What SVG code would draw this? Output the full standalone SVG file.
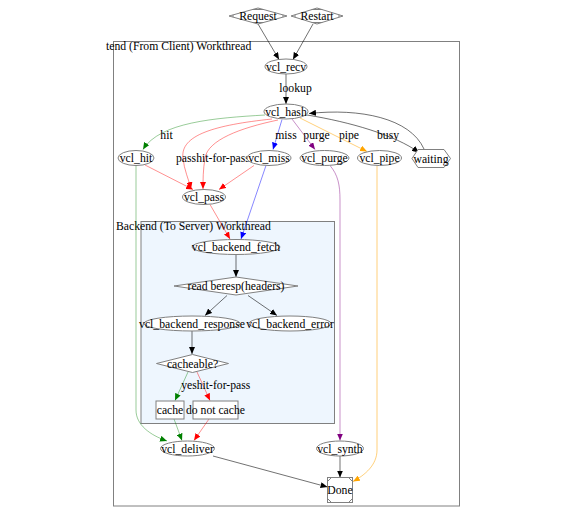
<svg xmlns="http://www.w3.org/2000/svg" width="570" height="515" viewBox="0 0 570 515">
<style>
text{font-family:"Liberation Serif","Times New Roman",serif;font-size:11.7px;fill:#000;text-anchor:middle}
.lbl{text-anchor:start}
.n{fill:#fff;stroke:#808080;stroke-width:1}
.cl{fill:none;stroke:#808080;stroke-width:1}
.e{fill:none;stroke-width:0.8}
.k{stroke:#000;stroke-opacity:0.7}
.g{stroke:#008000;stroke-opacity:0.5}
.r{stroke:#ff0000;stroke-opacity:0.55}
.b{stroke:#0000ff;stroke-opacity:0.6}
.p{stroke:#800080;stroke-opacity:0.55}
.o{stroke:#ffa500;stroke-opacity:0.65}
</style>
<defs>
<marker id="ak" markerUnits="userSpaceOnUse" markerWidth="7" markerHeight="6" refX="7" refY="3" orient="auto"><path d="M0,0 L7,3 L0,6 z" fill="#000"/></marker>
<marker id="ag" markerUnits="userSpaceOnUse" markerWidth="7" markerHeight="6" refX="7" refY="3" orient="auto"><path d="M0,0 L7,3 L0,6 z" fill="#008000"/></marker>
<marker id="ar" markerUnits="userSpaceOnUse" markerWidth="7" markerHeight="6" refX="7" refY="3" orient="auto"><path d="M0,0 L7,3 L0,6 z" fill="#ff0000"/></marker>
<marker id="ab" markerUnits="userSpaceOnUse" markerWidth="7" markerHeight="6" refX="7" refY="3" orient="auto"><path d="M0,0 L7,3 L0,6 z" fill="#0000ff"/></marker>
<marker id="ap" markerUnits="userSpaceOnUse" markerWidth="7" markerHeight="6" refX="7" refY="3" orient="auto"><path d="M0,0 L7,3 L0,6 z" fill="#800080"/></marker>
<marker id="ao" markerUnits="userSpaceOnUse" markerWidth="7" markerHeight="6" refX="7" refY="3" orient="auto"><path d="M0,0 L7,3 L0,6 z" fill="#ffa500"/></marker>
</defs>
<rect width="570" height="515" fill="#fff"/>

<g id="cluster_frontend">
<rect class="cl" x="113.5" y="41.5" width="346" height="464.5"/>
<text class="lbl" x="106" y="50">tend (From Client) Workthread</text>
</g>
<g id="cluster_backend">
<rect x="141" y="221.5" width="193.5" height="202" fill="#eef6fe" stroke="#808080" stroke-width="1"/>
<text class="lbl" x="116" y="230">Backend (To Server) Workthread</text>
</g>

<g id="connectors">
<path class="e k" d="M258,24 L279,59.5" marker-end="url(#ak)"/>
<path class="e k" d="M313,24 L293,59.5" marker-end="url(#ak)"/>
<path class="e k" d="M286,74 L286,104" marker-end="url(#ak)"/>
<text x="295.5" y="92">lookup</text>
<path class="e g" d="M265,115 C215,118 160,122 143,149.5" marker-end="url(#ag)"/>
<path class="e r" d="M272,119 C215,125 180,135 183,158 C184,170 189,180 191,189" marker-end="url(#ar)"/>
<path class="e r" d="M278,120 C240,128 208,140 205,158 C203,170 203,180 203,189" marker-end="url(#ar)"/>
<path class="e b" d="M282,119.5 L273,149.5" marker-end="url(#ab)"/>
<path class="e p" d="M292,119 L315,149.5" marker-end="url(#ap)"/>
<path class="e o" d="M300,118 L367,151.5" marker-end="url(#ao)"/>
<path class="e k" d="M307,115 C350,122 395,135 419,152.5" marker-end="url(#ak)"/>
<path class="e k" d="M424,149 C410,118 360,108 309,113.5" marker-end="url(#ak)"/>
<text x="166.5" y="138.5">hit</text>
<text x="186" y="162">pass</text>
<text x="223" y="162">hit-for-pass</text>
<text x="286" y="138.5">miss</text>
<text x="316.5" y="138.5">purge</text>
<text x="349" y="138.5">pipe</text>
<text x="388" y="138.5">busy</text>
<path class="e r" d="M145,165 L193,189.5" marker-end="url(#ar)"/>
<path class="e r" d="M254,165.5 L219,189.5" marker-end="url(#ar)"/>
<path class="e b" d="M266,165.5 L241,239" marker-end="url(#ab)"/>
<path class="e r" d="M210,204.5 L230,239" marker-end="url(#ar)"/>
<path class="e g" d="M136,165.5 L136,410 C136,425 150,435 167,441" marker-end="url(#ag)"/>
<path class="e p" d="M330,165.5 C338,175 340,185 340,200 L340,440.5" marker-end="url(#ap)"/>
<path class="e o" d="M377,165.5 L377,450 C377,465 365,475 353,481.5" marker-end="url(#ao)"/>
<path class="e k" d="M236,254.5 L236,277" marker-end="url(#ak)"/>
<path class="e k" d="M227,295.5 L205,315.5" marker-end="url(#ak)"/>
<path class="e k" d="M248,295.5 L277,315.5" marker-end="url(#ak)"/>
<path class="e k" d="M192,331 L192,354" marker-end="url(#ak)"/>
<path class="e g" d="M188,372 L175,400.5" marker-end="url(#ag)"/>
<path class="e r" d="M197,372 L210,400.5" marker-end="url(#ar)"/>
<text x="189" y="389">yes</text>
<text x="223.5" y="389">hit-for-pass</text>
<path class="e g" d="M174,419 L182,440.5" marker-end="url(#ag)"/>
<path class="e r" d="M209,419 L194,440.5" marker-end="url(#ar)"/>
<path class="e k" d="M340,456 L340,477.5" marker-end="url(#ak)"/>
<path class="e k" d="M213,456 L327.5,487" marker-end="url(#ak)"/>
</g>

<g id="Request">
<polygon class="n" points="229,16 258,8 287,16 258,24"/>
<path d="M233,14.9 L233,17.1 M283,14.9 L283,17.1 M252.6,9.5 L263.4,9.5 M252.6,22.5 L263.4,22.5" stroke="#808080" stroke-width="1" fill="none"/>
<text x="258" y="20">Request</text>
</g>
<g id="Restart">
<polygon class="n" points="291,16 317,8 343,16 317,24"/>
<path d="M295,14.8 L295,17.2 M339,14.8 L339,17.2 M311.6,9.5 L322.4,9.5 M311.6,22.5 L322.4,22.5" stroke="#808080" stroke-width="1" fill="none"/>
<text x="317" y="20">Restart</text>
</g>
<g id="vcl_recv"><ellipse class="n" cx="286" cy="66.5" rx="21" ry="7.5"/><text x="286" y="70.5">vcl_recv</text></g>
<g id="vcl_hash"><ellipse class="n" cx="286" cy="111.5" rx="22" ry="7.5"/><text x="286" y="115.5">vcl_hash</text></g>
<g id="vcl_hit"><ellipse class="n" cx="136" cy="158" rx="18" ry="7.5"/><text x="136" y="162">vcl_hit</text></g>
<g id="vcl_miss"><ellipse class="n" cx="269" cy="158" rx="22" ry="7.5"/><text x="269" y="162">vcl_miss</text></g>
<g id="vcl_purge"><ellipse class="n" cx="324.5" cy="158" rx="24.5" ry="7.5"/><text x="324.5" y="162">vcl_purge</text></g>
<g id="vcl_pipe"><ellipse class="n" cx="379.5" cy="158" rx="22" ry="7.5"/><text x="379.5" y="162">vcl_pipe</text></g>
<g id="waiting"><polygon class="n" points="412,158.5 418,149.5 444,149.5 450.5,158.5 444,167.5 418,167.5"/><text x="431" y="162.5">waiting</text></g>
<g id="vcl_pass"><ellipse class="n" cx="204" cy="197" rx="21.5" ry="7.5"/><text x="204" y="201">vcl_pass</text></g>
<g id="vcl_backend_fetch"><ellipse class="n" cx="236" cy="247" rx="44" ry="7.5"/><text x="236" y="251">vcl_backend_fetch</text></g>
<g id="read_beresp"><polygon class="n" points="174,286 236,277 298,286 236,295"/><text x="236" y="290">read beresp(headers)</text></g>
<g id="vcl_backend_response"><ellipse class="n" cx="192" cy="323.5" rx="48" ry="7.5"/><text x="192" y="327.5">vcl_backend_response</text></g>
<g id="vcl_backend_error"><ellipse class="n" cx="290" cy="323.5" rx="41" ry="7.5"/><text x="290" y="327.5">vcl_backend_error</text></g>
<g id="cacheable"><polygon class="n" points="156.5,363.5 192.5,354.5 228.5,363.5 192.5,372.5"/><text x="192.5" y="367.5">cacheable?</text></g>
<g id="cache"><rect class="n" x="156" y="401" width="28" height="18"/><text x="170" y="414">cache</text></g>
<g id="do_not_cache"><rect class="n" x="193" y="401" width="45" height="18"/><text x="215.5" y="414">do not cache</text></g>
<g id="vcl_deliver"><ellipse class="n" cx="187.5" cy="448.5" rx="27" ry="7.5"/><text x="187.5" y="452.5">vcl_deliver</text></g>
<g id="vcl_synth"><ellipse class="n" cx="340" cy="448.5" rx="23.5" ry="7.5"/><text x="340" y="452.5">vcl_synth</text></g>
<g id="Done">
<rect class="n" x="327.5" y="477.5" width="25" height="25"/>
<path d="M327.5,481.5 L331.5,477.5 M348.5,477.5 L352.5,481.5 M352.5,498.5 L348.5,502.5 M331.5,502.5 L327.5,498.5" stroke="#808080" stroke-width="1" fill="none"/>
<text x="340" y="494">Done</text>
</g>
</svg>
